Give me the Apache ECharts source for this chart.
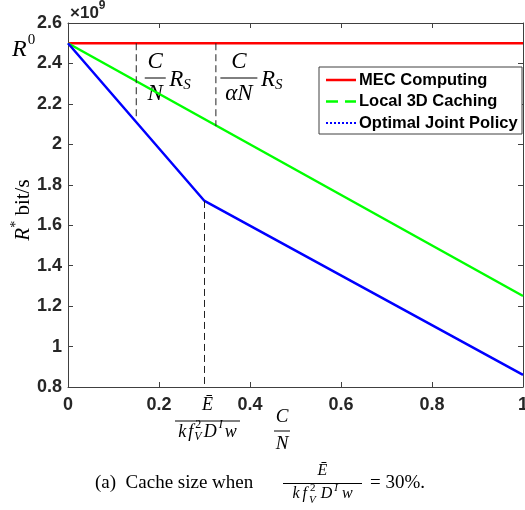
<!DOCTYPE html>
<html>
<head>
<meta charset="utf-8">
<script src="https://cdn.jsdelivr.net/npm/echarts@6/dist/echarts.min.js"></script>
<style>
  html, body { margin: 0; padding: 0; background: #fff; }
  #chart { width: 525px; height: 510px; }
</style>
</head>
<body>
<div id="chart"></div>
<script>
// Achievable rate R* (in units of 10^9 bit/s) against the normalised cache size C/N
const seriesNames = ['MEC Computing', 'Local 3D Caching', 'Optimal Joint Policy'];
const mecRatio = [0, 1];
const mecRate = [2.5, 2.5];
const cachingRatio = [0, 1];
const cachingRate = [2.5, 1.25];
const jointRatio = [0, 0.3, 1];
const jointRate = [2.5, 1.72, 0.86];

// vertical guides: [C/N, upper rate, lower rate]
const guideRS = [0.15, 2.5, 2.12];
const guideAlphaRS = [0.325, 2.5, 2.09];
const guideEnergy = [0.3, 1.72, 0.8];

const xTickLabels = ['0', '0.2', '0.4', '0.6', '0.8', '1'];
const yTickLabels = ['0.8', '1', '1.2', '1.4', '1.6', '1.8', '2', '2.2', '2.4', '2.6'];

const SERIF = '"Liberation Serif", "Times New Roman", serif';
const SANS = '"Liberation Sans", Arial, Helvetica, sans-serif';
const INK = '#000';
const AXIS = '#404040';
const TICKTXT = '#262626';

const chart = echarts.init(document.getElementById('chart'), null, { renderer: 'canvas' });

function pairs(xs, ys) { return xs.map((x, i) => [x, ys[i]]); }
function guide(g) { return [[g[0], g[1]], [g[0], g[2]]]; }

const lineSeries = (name, data, color) => ({
  name, type: 'line', data, symbol: 'none', silent: true,
  lineStyle: { color, width: 2.5 }, z: 3
});
const guideSeries = (data) => ({
  type: 'line', data, symbol: 'none', silent: true,
  lineStyle: { color: '#222', width: 1, type: [7, 4] }, z: 4
});

const axisCommon = {
  axisLine: { show: true, onZero: false, lineStyle: { color: AXIS, width: 1 } },
  axisTick: { show: true, inside: true, length: 5, lineStyle: { color: AXIS } },
  splitLine: { show: false }
};

chart.setOption({
  animation: false,
  backgroundColor: '#fff',
  grid: { left: 68, top: 23, width: 455, height: 364, containLabel: false, outerBoundsMode: 'none' },
  xAxis: [
    Object.assign({
      type: 'value', min: 0, max: 1, interval: 0.2, position: 'bottom',
      axisLabel: {
        margin: 9, fontSize: 18, fontWeight: 'bold', fontFamily: SANS, color: TICKTXT,
        formatter: (v, i) => xTickLabels[i]
      }
    }, axisCommon),
    Object.assign({
      type: 'value', min: 0, max: 1, interval: 0.2, position: 'top',
      axisLabel: { show: false }
    }, axisCommon)
  ],
  yAxis: [
    Object.assign({
      type: 'value', min: 0.8, max: 2.6, interval: 0.2, position: 'left',
      axisLabel: {
        margin: 6, fontSize: 18, fontWeight: 'bold', fontFamily: SANS, color: TICKTXT,
        formatter: (v, i) => yTickLabels[i]
      }
    }, axisCommon),
    Object.assign({
      type: 'value', min: 0.8, max: 2.6, interval: 0.2, position: 'right',
      axisLabel: { show: false }
    }, axisCommon)
  ],
  series: [
    lineSeries(seriesNames[0], pairs(mecRatio, mecRate), '#ff0000'),
    lineSeries(seriesNames[1], pairs(cachingRatio, cachingRate), '#00ff00'),
    lineSeries(seriesNames[2], pairs(jointRatio, jointRate), '#0000ff'),
    guideSeries(guide(guideRS)),
    guideSeries(guide(guideAlphaRS)),
    guideSeries(guide(guideEnergy))
  ]
});

// ---- small typesetting helpers for the math annotations ----
const mctx = document.createElement('canvas').getContext('2d');
function fnt(p) { return (p.it ? 'italic ' : '') + (p.b ? 'bold ' : '') + p.s + 'px ' + (p.f || SERIF); }
function tw(p) { mctx.font = fnt(p); return mctx.measureText(p.t).width; }
function pieceW(p) { return p.stack ? Math.max.apply(null, p.stack.map(tw)) : tw(p); }
function rowWidth(pieces) { return pieces.reduce((a, p) => a + (p.dx || 0) + pieceW(p), 0); }
function row(pieces, x, y, anchor) {
  const W = rowWidth(pieces);
  let cx = anchor === 'center' ? x - W / 2 : x;
  const out = [];
  pieces.forEach(p => {
    cx += p.dx || 0;
    (p.stack || [p]).forEach(q => out.push({
      type: 'text', x: cx + (q.ox || 0), y: y + (q.dy || 0), silent: true,
      style: { text: q.t, font: fnt(q), fill: q.c || INK, align: 'left', verticalAlign: 'middle' }
    }));
    cx += pieceW(p);
  });
  return out;
}
function frac(num, den, cx, barY, numY, denY, barW) {
  const W = barW || Math.max(rowWidth(num), rowWidth(den)) + 6;
  return [].concat(
    row(num, cx, numY, 'center'),
    [{ type: 'line', silent: true, shape: { x1: cx - W / 2, y1: barY, x2: cx + W / 2, y2: barY },
       style: { stroke: INK, lineWidth: 1 } }],
    row(den, cx, denY, 'center')
  );
}

const px = (x, y) => chart.convertToPixel({ xAxisIndex: 0, yAxisIndex: 0 }, [x, y]);
const els = [];

// exponent marker above the y axis
els.push(...row([
  { t: '\u00d710', s: 17, b: true, f: SANS, c: TICKTXT },
  { t: '9', s: 12, b: true, f: SANS, c: TICKTXT, dy: -7 }
], 70, 13, 'left'));

// R^0 next to the MEC level
els.push(...row([
  { t: 'R', s: 24, it: true },
  { t: '0', s: 15, dy: -10, dx: 1 }
], 12, 50, 'left'));

// C/N R_S
const g1 = px(guideRS[0], guideRS[1])[0];
els.push(...frac([{ t: 'C', s: 23, it: true }], [{ t: 'N', s: 23, it: true }], g1 + 19, 78, 62, 94, 21));
els.push(...row([{ t: 'R', s: 23, it: true }, { t: 'S', s: 15, it: true, dy: 5 }], g1 + 33, 80, 'left'));

// C/(alpha N) R_S
const g2 = px(guideAlphaRS[0], guideAlphaRS[1])[0];
els.push(...frac([{ t: 'C', s: 23, it: true }], [{ t: '\u03b1', s: 23, it: true }, { t: 'N', s: 23, it: true }], g2 + 23, 78, 62, 94, 37));
els.push(...row([{ t: 'R', s: 23, it: true }, { t: 'S', s: 15, it: true, dy: 5 }], g2 + 45, 80, 'left'));

// energy threshold under the x axis
const gE = px(guideEnergy[0], guideEnergy[2])[0];
const denomAxis = [
  { t: 'k', s: 18, it: true },
  { t: 'f', s: 18, it: true, dx: 2 },
  { stack: [{ t: '2', s: 12, dy: -7, ox: 1 }, { t: 'V', s: 12, it: true, dy: 5 }], dx: 1 },
  { t: 'D', s: 18, it: true, dx: 2 },
  { t: 'I', s: 12, it: true, dy: -7, dx: 2 },
  { t: 'w', s: 18, it: true, dx: 2 }
];
els.push(...frac([{ t: '\u0112', s: 18, it: true }], denomAxis, gE + 3, 421, 405, 432, 65));

// x axis name C/N
els.push(...frac([{ t: 'C', s: 19, it: true }], [{ t: 'N', s: 19, it: true }], 282, 431, 417, 444, 16));

// y axis name R* bit/s (rotated)
els.push({
  type: 'group', x: 23, y: 210, rotation: Math.PI / 2,
  children: row([
    { t: 'R', s: 21, it: true },
    { t: '*', s: 14, dy: -7 },
    { t: ' bit/s', s: 21 }
  ], 0, 0, 'center')
});

// caption
els.push(...row([{ t: '(a)  Cache size when', s: 19 }], 95, 483, 'left'));
const denomCap = [
  { t: 'k', s: 16, it: true },
  { t: 'f', s: 16, it: true, dx: 3 },
  { stack: [{ t: '2', s: 11, dy: -6, ox: 1 }, { t: 'V', s: 11, it: true, dy: 6 }], dx: 2 },
  { t: 'D', s: 16, it: true, dx: 5 },
  { t: 'I', s: 11, it: true, dy: -6, dx: 2 },
  { t: 'w', s: 16, it: true, dx: 4 }
];
els.push(...frac([{ t: '\u0112', s: 16, it: true }], denomCap, 322.5, 483.5, 471, 494, 79));
els.push(...row([{ t: '= 30%.', s: 19 }], 370, 483, 'left'));

// legend box
const LX = 319, LY = 67, LW = 203, LH = 67;
els.push({ type: 'rect', shape: { x: LX, y: LY, width: LW, height: LH }, z: 10,
  style: { fill: '#fff', stroke: AXIS, lineWidth: 1 } });
const legendStyles = [
  { stroke: '#ff0000', lineWidth: 2.5 },
  { stroke: '#00ff00', lineWidth: 2.5, lineDash: [12, 7] },
  { stroke: '#0000ff', lineWidth: 2, lineDash: [2, 2] }
];
const legendRows = [80, 101.5, 123];
seriesNames.forEach((name, i) => {
  els.push({ type: 'line', z: 11, shape: { x1: LX + 7, y1: legendRows[i], x2: LX + 37, y2: legendRows[i] },
    style: legendStyles[i] });
  els.push({ type: 'text', z: 11, x: LX + 40, y: legendRows[i],
    style: { text: name, font: 'bold 16.5px ' + SANS, fill: INK, align: 'left', verticalAlign: 'middle' } });
});

chart.setOption({ graphic: { elements: els } });
</script>
</body>
</html>
